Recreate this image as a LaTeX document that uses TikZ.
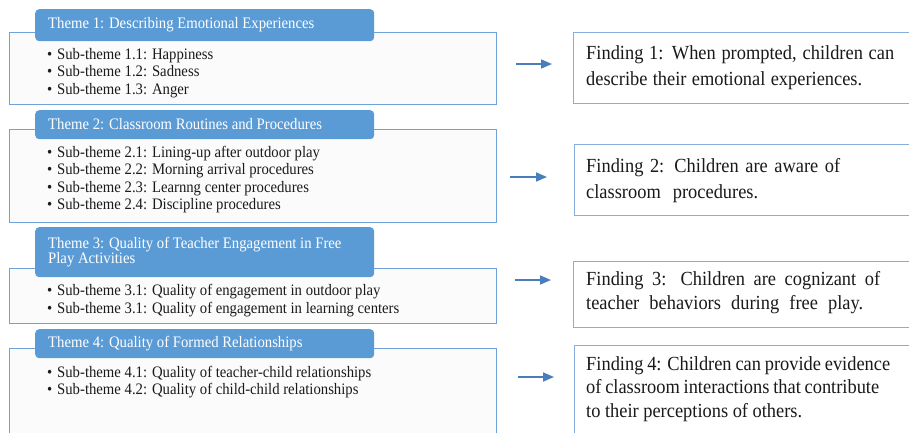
\documentclass[tikz,border=0pt]{standalone}
\usepackage{fontspec}
\setmainfont[FakeStretch=0.92]{Liberation Serif}
\usetikzlibrary{arrows.meta}
\definecolor{hdrblue}{HTML}{5B9BD5}
\definecolor{boxline}{HTML}{6FA2D8}
\definecolor{boxfill}{HTML}{FBFBFB}
\definecolor{findline}{HTML}{86AEDC}
\definecolor{arrowblue}{HTML}{4A7EBB}
\definecolor{txt}{HTML}{1A1A1A}
\tikzset{
  subbox/.style={draw=boxline, line width=1.2pt, fill=boxfill, anchor=north west, inner sep=0pt},
  hdr/.style={fill=hdrblue, rounded corners=4pt, anchor=north west, inner sep=0pt},
  hdrtxt/.style={anchor=west, inner sep=0pt, text=white, font=\fontsize{16}{14.7}\selectfont, align=left},
  subtxt/.style={anchor=base west, inner sep=0pt, text=txt, font=\fontsize{16}{17.5}\selectfont},
  findbox/.style={draw=findline, line width=1.2pt, fill=white, anchor=north west, inner sep=0pt},
  findtxt/.style={anchor=base west, inner sep=0pt, text=txt, font=\fontsize{20}{26}\selectfont},
  arr/.style={draw=arrowblue, line width=1.6pt, -{Triangle[length=11pt,width=9pt]}}
}
\newcommand{\bul}{\makebox[10pt][l]{\textbullet}}
\begin{document}
\begin{tikzpicture}[x=1pt,y=-1pt]
\path[use as bounding box, clip] (0,0) rectangle (909,432);
\fill[white] (0,0) rectangle (909,432);
% Theme 1
\node[subbox, minimum width=487pt, minimum height=72pt] (s1) at (9,32) {};
\node[hdr, minimum width=339pt, minimum height=32pt] (h1) at (35,9) {};
\node[hdrtxt] (h1t) at (48,25) {Theme 1: Describing Emotional Experiences};
\node[subtxt] (s1a) at (47,59) {\bul Sub-theme 1.1: Happiness};
\node[subtxt] (s1b) at (47,76.5) {\bul Sub-theme 1.2: Sadness};
\node[subtxt] (s1c) at (47,94) {\bul Sub-theme 1.3: Anger};
% Theme 2
\node[subbox, minimum width=487pt, minimum height=93pt] (s2) at (9,129) {};
\node[hdr, minimum width=339pt, minimum height=29pt] (h2) at (35,110) {};
\node[hdrtxt] (h2t) at (48,124.5) {Theme 2: Classroom Routines and Procedures};
\node[subtxt] (s2a) at (47,157) {\bul Sub-theme 2.1: Lining-up after outdoor play};
\node[subtxt] (s2b) at (47,174.5) {\bul Sub-theme 2.2: Morning arrival procedures};
\node[subtxt] (s2c) at (47,192) {\bul Sub-theme 2.3: Learnng center procedures};
\node[subtxt] (s2d) at (47,209.5) {\bul Sub-theme 2.4: Discipline procedures};
% Theme 3
\node[subbox, minimum width=487pt, minimum height=55pt] (s3) at (9,268) {};
\node[hdr, minimum width=339pt, minimum height=50pt] (h3) at (35,227) {};
\node[hdrtxt] (h3t) at (48,252) {Theme 3: Quality of Teacher Engagement in Free\\Play Activities};
\node[subtxt] (s3a) at (47,295.5) {\bul Sub-theme 3.1: Quality of engagement in outdoor play};
\node[subtxt] (s3b) at (47,313) {\bul Sub-theme 3.1: Quality of engagement in learning centers};
% Theme 4
\node[subbox, minimum width=487pt, minimum height=95pt] (s4) at (9,348) {};
\node[hdr, minimum width=339pt, minimum height=29pt] (h4) at (35,329) {};
\node[hdrtxt] (h4t) at (48,343.5) {Theme 4: Quality of Formed Relationships};
\node[subtxt] (s4a) at (47,377) {\bul Sub-theme 4.1: Quality of teacher-child relationships};
\node[subtxt] (s4b) at (47,394) {\bul Sub-theme 4.2: Quality of child-child relationships};
% Findings
\node[findbox, minimum width=345pt, minimum height=71pt] (f1) at (573,32) {};
\node[findtxt] (f1a) at (586,59) {\makebox[308pt][s]{Finding 1: When prompted, children can}};
\node[findtxt] (f1b) at (586,85) {\makebox[276pt][s]{describe their emotional experiences.}};
\node[findbox, minimum width=345pt, minimum height=71pt] (f2) at (574,144) {};
\node[findtxt] (f2a) at (586,172) {\makebox[254pt][s]{Finding 2: Children are aware of}};
\node[findtxt] (f2b) at (586,198) {\makebox[172pt][s]{classroom procedures.}};
\node[findbox, minimum width=345pt, minimum height=66pt] (f3) at (573,261) {};
\node[findtxt] (f3a) at (586,285) {\makebox[294pt][s]{Finding 3: Children are cognizant of}};
\node[findtxt] (f3b) at (586,309) {\makebox[277pt][s]{teacher behaviors during free play.}};
\node[findbox, minimum width=345pt, minimum height=95pt] (f4) at (574,345) {};
\node[findtxt] (f4a) at (586,370) {\makebox[304pt][s]{Finding 4: Children can provide evidence}};
\node[findtxt] (f4b) at (586,393.5) {\makebox[293pt][s]{of classroom interactions that contribute}};
\node[findtxt] (f4c) at (586,417) {\makebox[216pt][s]{to their perceptions of others.}};
% Arrows
\coordinate (a1s) at (516,64); \coordinate (a1e) at (552,64);
\coordinate (a2s) at (510,177); \coordinate (a2e) at (547,177);
\coordinate (a3s) at (515,280); \coordinate (a3e) at (551,280);
\coordinate (a4s) at (518,377); \coordinate (a4e) at (554,377);
\draw[arr] (a1s) -- (a1e);
\draw[arr] (a2s) -- (a2e);
\draw[arr] (a3s) -- (a3e);
\draw[arr] (a4s) -- (a4e);
\end{tikzpicture}
\end{document}
